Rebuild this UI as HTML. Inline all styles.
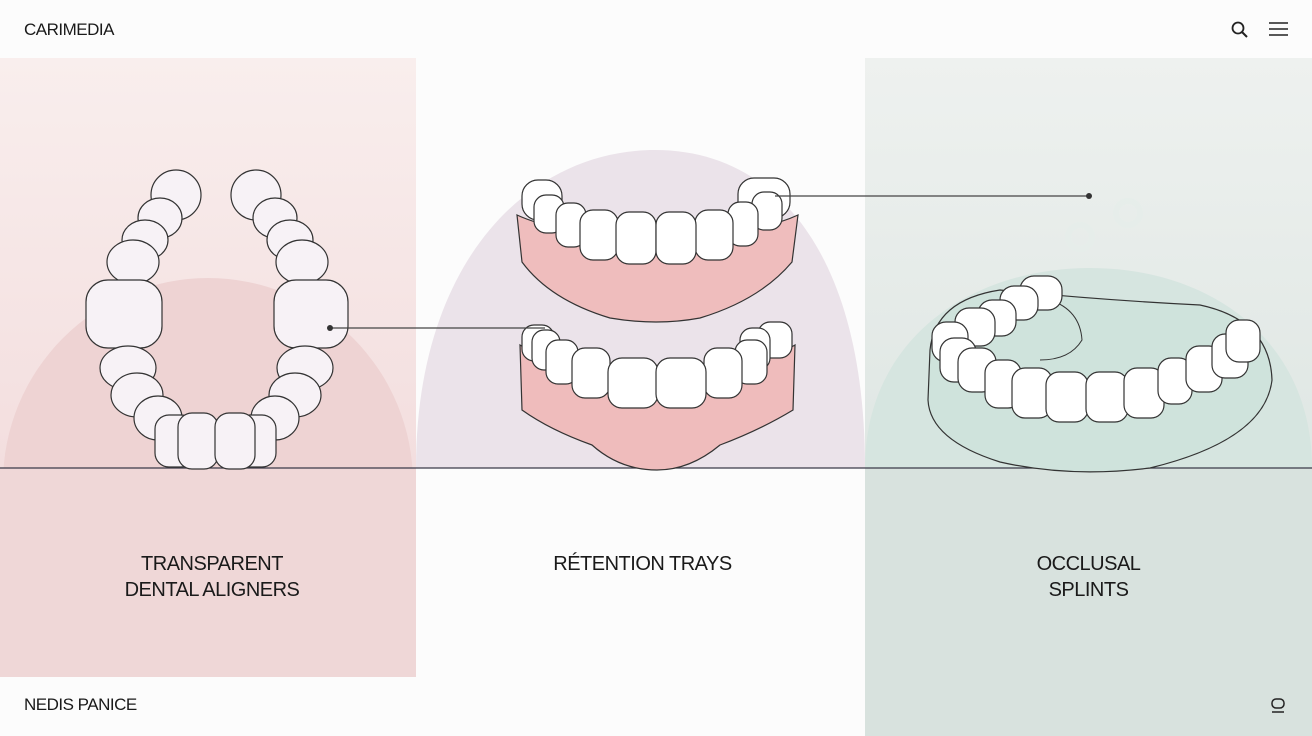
<!DOCTYPE html>
<html><head><meta charset="utf-8"><style>
html,body{margin:0;padding:0;width:1312px;height:736px;overflow:hidden;}
body{background:#fcfcfc;position:relative;font-family:"Liberation Sans",sans-serif;color:#1a1a1a;}
svg{display:block}
.t{position:absolute;font-size:20px;text-align:center;line-height:26px;letter-spacing:-0.5px}
</style></head><body>
<svg width="1312" height="736" viewBox="0 0 1312 736" style="position:absolute;left:0;top:0">
<defs>
<linearGradient id="pk" x1="0" y1="0" x2="0" y2="1"><stop offset="0" stop-color="#f9eeed"/><stop offset="1" stop-color="#f0d6d7"/></linearGradient>
<linearGradient id="gr" x1="0" y1="0" x2="0" y2="1"><stop offset="0" stop-color="#eef1ef"/><stop offset="1" stop-color="#d5e0dc"/></linearGradient>
<clipPath id="cl"><rect x="0" y="58" width="416" height="619"/></clipPath>
</defs>
<rect x="0" y="58" width="416" height="619" fill="url(#pk)"/>
<rect x="865" y="58" width="447" height="678" fill="url(#gr)"/>
<g clip-path="url(#cl)"><circle cx="208" cy="483" r="205" fill="#eed3d3"/><rect x="0" y="468" width="416" height="209" fill="#efd7d7"/></g>
<path d="M416 468 C416 260 530 150 655 150 C780 150 865 260 865 468 Z" fill="#ebe3ea"/>
<path d="M865 468 C865 340 970 268 1090 268 C1210 268 1312 340 1312 468 Z" fill="#d6e5e0"/>
<rect x="865" y="468" width="447" height="268" fill="#d8e2de"/>
<line x1="0" y1="468" x2="1312" y2="468" stroke="#3a3a48" stroke-width="1.3"/>
<g fill="#f7f2f6" stroke="#333" stroke-width="1.2">
<ellipse cx="176" cy="195" rx="25" ry="25"/><ellipse cx="256" cy="195" rx="25" ry="25"/>
<ellipse cx="160" cy="218" rx="22" ry="20"/><ellipse cx="275" cy="218" rx="22" ry="20"/>
<ellipse cx="145" cy="240" rx="23" ry="20"/><ellipse cx="290" cy="240" rx="23" ry="20"/>
<ellipse cx="133" cy="262" rx="26" ry="22"/><ellipse cx="302" cy="262" rx="26" ry="22"/>
<rect x="86" y="280" width="76" height="68" rx="22"/><rect x="274" y="280" width="74" height="68" rx="22"/>
<ellipse cx="128" cy="368" rx="28" ry="22"/><ellipse cx="305" cy="368" rx="28" ry="22"/>
<ellipse cx="137" cy="395" rx="26" ry="22"/><ellipse cx="295" cy="395" rx="26" ry="22"/>
<ellipse cx="158" cy="418" rx="24" ry="22"/><ellipse cx="275" cy="418" rx="24" ry="22"/>
<rect x="155" y="415" width="40" height="52" rx="14"/><rect x="236" y="415" width="40" height="52" rx="14"/>
<rect x="178" y="413" width="40" height="56" rx="14"/><rect x="215" y="413" width="40" height="56" rx="14"/>
</g>
<path d="M517 215 Q560 235 657 238 Q755 235 798 215 L792 262 Q760 300 700 318 Q657 326 610 318 Q550 300 522 262 Z" fill="#efbdbd" stroke="#333" stroke-width="1.2"/>
<g fill="#fff" stroke="#333" stroke-width="1.2">
<rect x="522" y="180" width="40" height="40" rx="16"/><rect x="738" y="178" width="52" height="40" rx="16"/>
<rect x="534" y="195" width="30" height="38" rx="12"/><rect x="752" y="192" width="30" height="38" rx="12"/>
<rect x="556" y="203" width="30" height="44" rx="12"/><rect x="728" y="202" width="30" height="44" rx="12"/>
<rect x="580" y="210" width="38" height="50" rx="13"/><rect x="695" y="210" width="38" height="50" rx="13"/>
<rect x="616" y="212" width="40" height="52" rx="13"/><rect x="656" y="212" width="40" height="52" rx="13"/>
</g>
<path d="M520 345 Q560 370 657 372 Q755 370 795 345 L793 410 Q760 430 720 445 Q690 470 657 470 Q620 470 592 445 Q550 430 522 410 Z" fill="#efbcbc" stroke="#333" stroke-width="1.2"/>
<g fill="#fff" stroke="#333" stroke-width="1.2">
<rect x="522" y="325" width="32" height="36" rx="12"/><rect x="758" y="322" width="34" height="36" rx="12"/>
<rect x="532" y="330" width="28" height="40" rx="12"/><rect x="740" y="328" width="30" height="42" rx="12"/>
<rect x="546" y="340" width="32" height="44" rx="12"/><rect x="735" y="340" width="32" height="44" rx="12"/>
<rect x="572" y="348" width="38" height="50" rx="13"/><rect x="704" y="348" width="38" height="50" rx="13"/>
<rect x="608" y="358" width="50" height="50" rx="14"/><rect x="656" y="358" width="50" height="50" rx="14"/>
</g>
<path d="M930 350 Q935 300 1000 290 Q1100 300 1200 305 Q1270 320 1272 380 Q1265 440 1150 468 Q1070 478 1000 462 Q930 440 928 400 Z" fill="#cfe3dc" stroke="#333" stroke-width="1.2"/>
<path d="M1050 300 Q1080 310 1082 340 Q1070 360 1040 360" fill="none" stroke="#333" stroke-width="1"/>
<g fill="#fff" stroke="#333" stroke-width="1.2">
<rect x="1020" y="276" width="42" height="34" rx="14"/><rect x="1000" y="286" width="38" height="34" rx="14"/>
<rect x="978" y="300" width="38" height="36" rx="14"/><rect x="955" y="308" width="40" height="38" rx="14"/>
<rect x="932" y="322" width="36" height="40" rx="14"/><rect x="940" y="338" width="36" height="44" rx="14"/>
<rect x="958" y="348" width="38" height="44" rx="14"/><rect x="985" y="360" width="36" height="48" rx="13"/>
<rect x="1012" y="368" width="40" height="50" rx="13"/><rect x="1046" y="372" width="42" height="50" rx="13"/>
<rect x="1086" y="372" width="42" height="50" rx="13"/><rect x="1124" y="368" width="40" height="50" rx="13"/>
<rect x="1158" y="358" width="34" height="46" rx="13"/><rect x="1186" y="346" width="36" height="46" rx="13"/>
<rect x="1212" y="334" width="36" height="44" rx="13"/><rect x="1226" y="320" width="34" height="42" rx="13"/>
</g>
<g fill="none" stroke="#e6eeea" stroke-width="6" opacity=".9"><circle cx="1080" cy="237" r="12"/><circle cx="1128" cy="213" r="12"/></g>
<g stroke="#444" stroke-width="1.2">
<line x1="330" y1="328" x2="545" y2="328"/><line x1="775" y1="196" x2="1088" y2="196"/>
</g>
<circle cx="330" cy="328" r="3" fill="#333"/><circle cx="1089" cy="196" r="3" fill="#333"/>
<circle cx="1238" cy="28" r="5.5" fill="none" stroke="#222" stroke-width="1.8"/><line x1="1242" y1="32" x2="1247" y2="37" stroke="#222" stroke-width="2"/>
<g stroke="#222" stroke-width="1.6"><line x1="1269" y1="23" x2="1288" y2="23"/><line x1="1269" y1="29" x2="1288" y2="29"/><line x1="1269" y1="35" x2="1288" y2="35"/></g>
<rect x="1272" y="699" width="12" height="9" rx="4" fill="none" stroke="#222" stroke-width="1.5"/><line x1="1272" y1="712" x2="1284" y2="712" stroke="#222" stroke-width="1.5"/>
</svg>
<div class="t" style="left:24px;top:17px;font-size:17px;text-align:left">CARIMEDIA</div>
<div class="t" style="left:24px;top:692px;font-size:17px;text-align:left">NEDIS PANICE</div>
<div class="t" style="left:0;width:424px;top:551px">TRANSPARENT<br>DENTAL ALIGNERS</div>
<div class="t" style="left:420px;width:445px;top:551px">RÉTENTION TRAYS</div>
<div class="t" style="left:865px;width:447px;top:551px">OCCLUSAL<br>SPLINTS</div>
</body></html>
